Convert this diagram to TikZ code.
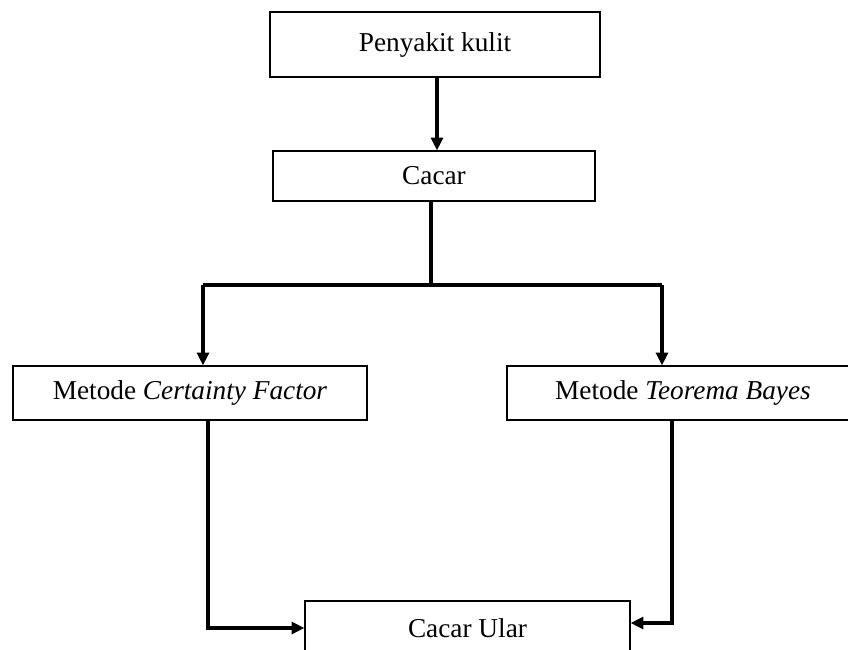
\documentclass[tikz,border=0pt]{standalone}
\usepackage{fontspec}
\setmainfont{Liberation Serif}
\usepackage{tikz}
\usetikzlibrary{arrows.meta}

\begin{document}
\begin{tikzpicture}[x=0.0125cm, y=-0.0125cm,
	box/.style={draw, line width=0.45pt, inner sep=0pt, font=\fontsize{9.7}{12}\selectfont},
	line/.style={line width=1.1pt},
	arrow/.style={line width=1.1pt, -{Triangle[length=0.16cm, width=0.15cm]}}]
	\useasboundingbox (0,0) rectangle (848,649);
	\clip (0,0) rectangle (848,649);
	\node[box, minimum width=330*0.0125cm, minimum height=65*0.0125cm] (kulit) at (435,44.5) {Penyakit kulit};
	\node[box, minimum width=322*0.0125cm, minimum height=50*0.0125cm] (cacar) at (434,176) {Cacar};
	\node[box, minimum width=354*0.0125cm, minimum height=54*0.0125cm] (cf) at (190,393) {Metode \textit{Certainty Factor}};
	\node[box, minimum width=352*0.0125cm, minimum height=54*0.0125cm] (bayes) at (683,393) {Metode \textit{Teorema Bayes}};
	\node[box, minimum width=325*0.0125cm, minimum height=54*0.0125cm] (ular) at (467.5,628) {Cacar Ular};
	\coordinate (fork) at (431,285);
	\coordinate (lin) at (203,285);
	\coordinate (rin) at (662,285);
	\coordinate (lout) at (208,420);
	\coordinate (rout) at (672,420);
	\draw[arrow] (kulit.south -| 437,0) -- (cacar.north -| 437,0);
	\draw[line] (cacar.south -| fork) -- (fork);
	\draw[line] (lin) -- (rin);
	\draw[arrow] (lin) -- (cf.north -| lin);
	\draw[arrow] (rin) -- (bayes.north -| rin);
	\draw[arrow] (cf.south -| lout) |- (ular.west);
	\draw[arrow] (bayes.south -| rout) |- ([yshift=0.0625cm]ular.east);
\end{tikzpicture}
\end{document}
